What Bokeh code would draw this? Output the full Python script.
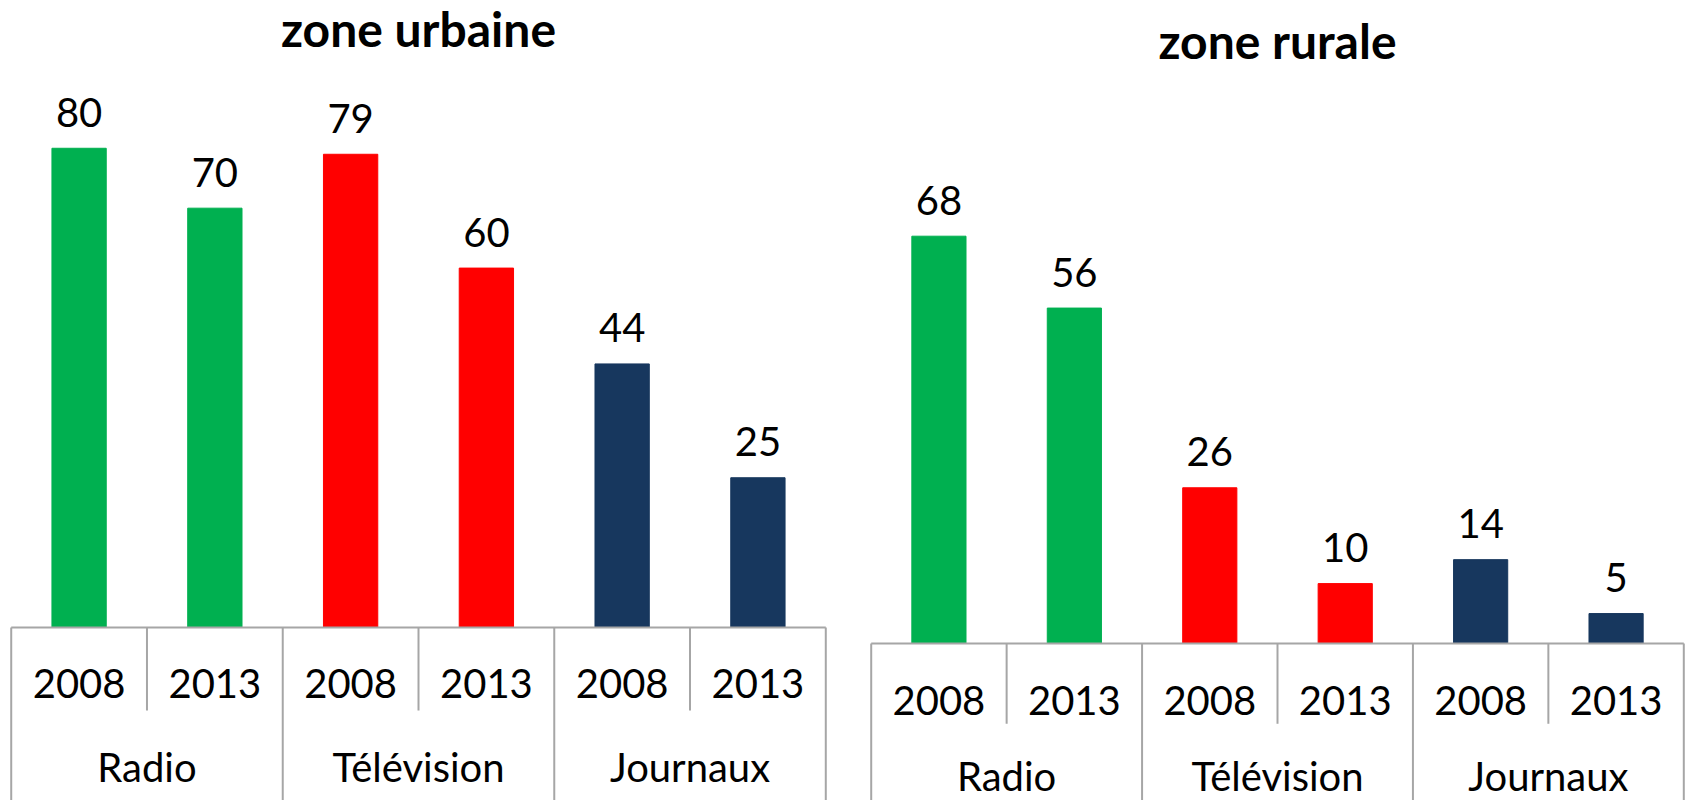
from bokeh.plotting import figure
from bokeh.layouts import row
from bokeh.models import Range1d, ColumnDataSource, Label
from bokeh.core.properties import value
from bokeh.embed import file_html
from bokeh.resources import INLINE

# ---- data ----
groups = ["Radio", "Télévision", "Journaux"]
years = ["2008", "2013"]
urban_values = [80, 70, 79, 60, 44, 25]
rural_values = [68, 56, 26, 10, 14, 5]
group_colors = ["#00B050", "#FF0000", "#17375E"]
titles = ["zone urbaine", "zone rurale"]

FONT = "Lato"
AXIS_COLOR = "#A6A6A6"


def make_chart(title, vals, width, border_left, x_end, y_bottom, y_top,
               year_y, group_y, sub_bottom, title_y):
    p = figure(width=width, height=800, x_range=Range1d(-0.02, x_end),
               y_range=Range1d(y_bottom, y_top), output_backend="svg",
               toolbar_location=None, x_axis_location=None, y_axis_location=None,
               min_border_left=border_left, min_border_right=0,
               min_border_top=0, min_border_bottom=0)
    p.outline_line_color = None
    p.xgrid.visible = False
    p.ygrid.visible = False
    p.background_fill_color = "white"
    p.border_fill_color = "white"

    n_years = len(years)
    xs, cols, year_labels = [], [], []
    for gi, g in enumerate(groups):
        for yi, yr in enumerate(years):
            idx = gi * n_years + yi
            xs.append(idx + 0.5)
            cols.append(group_colors[gi])
            year_labels.append(yr)
    label_y = [v + 6.0 for v in vals]
    src = ColumnDataSource(dict(x=xs, top=vals, color=cols, year=year_labels,
                                lab=[str(v) for v in vals], ly=label_y,
                                yy=[year_y] * len(xs)))
    p.vbar(x="x", top="top", bottom=0, width=0.4, color="color", source=src)

    # value labels
    p.text(x="x", y="ly", text="lab", source=src, text_align="center",
           text_baseline="middle", text_font=value(FONT), text_font_size="40px",
           text_color="black")
    # year labels
    p.text(x="x", y="yy", text="year", source=src, text_align="center",
           text_baseline="middle", text_font=value(FONT), text_font_size="40px",
           text_color="black")
    # group labels
    gx = [gi * n_years + n_years / 2 for gi in range(len(groups))]
    p.text(x=gx, y=[group_y] * len(groups), text=groups, text_align="center",
           text_baseline="middle", text_font=value(FONT), text_font_size="40px",
           text_color="black")

    # axis line
    total = len(groups) * n_years
    p.segment(x0=[0], y0=[0], x1=[total], y1=[0], line_color=AXIS_COLOR, line_width=2)
    # category separators (within groups)
    sub_x = [gi * n_years + k for gi in range(len(groups)) for k in range(1, n_years)]
    p.segment(x0=sub_x, y0=[0] * len(sub_x), x1=sub_x, y1=[sub_bottom] * len(sub_x),
              line_color=AXIS_COLOR, line_width=2)
    # group separators
    grp_x = [gi * n_years for gi in range(len(groups) + 1)]
    p.segment(x0=grp_x, y0=[0] * len(grp_x), x1=grp_x, y1=[y_bottom] * len(grp_x),
              line_color=AXIS_COLOR, line_width=2)

    p.add_layout(Label(x=total / 2, y=title_y, text=title, text_align="center",
                       text_baseline="middle", text_font=FONT, text_font_style="bold",
                       text_font_size="48px", text_color="black"))
    return p


p1 = make_chart(titles[0], urban_values, 828, 8, 6.02, -28.88, 104.67,
                -9.4, -23.3, -13.86, 100.0)
p2 = make_chart(titles[1], rural_values, 858, 40, 6.02, -26.21, 107.35,
                -9.5, -22.2, -13.4, 100.7)

layout = row(p1, p2)
open("out.html", "w").write(file_html(layout, INLINE))
